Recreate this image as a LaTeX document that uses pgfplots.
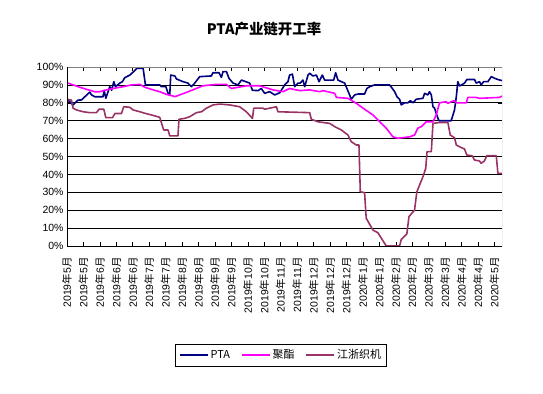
\documentclass[border=0pt]{standalone}
\usepackage{pgfplots}
\pgfplotsset{compat=1.18}
\usepackage{fontspec}
\setmainfont{Liberation Sans}
\newfontfamily\cjk{Noto Sans CJK SC}
\newcommand\lab[2]{#1{\cjk 年}#2{\cjk 月}}
\definecolor{ptac}{HTML}{000080}
\definecolor{polc}{HTML}{FF00FF}
\definecolor{weac}{HTML}{993366}
\begin{document}
\begin{tikzpicture}[x=1bp,y=1bp]
\path[use as bounding box] (0,0) rectangle (543,393);
\node[font=\cjk\bfseries\fontsize{14.5}{16}\selectfont] at (264,364) {PTA产业链开工率};
\begin{axis}[at={(67bp,147bp)}, anchor=south west, scale only axis,
  width=435bp, height=179bp,
  xmin=0, xmax=26.46, ymin=0, ymax=100,
  xtick={0,...,26},
  xticklabels={{\lab{2019}{5}},{\lab{2019}{5}},{\lab{2019}{6}},{\lab{2019}{6}},{\lab{2019}{6}},{\lab{2019}{7}},{\lab{2019}{7}},{\lab{2019}{8}},{\lab{2019}{8}},{\lab{2019}{9}},{\lab{2019}{9}},{\lab{2019}{10}},{\lab{2019}{10}},{\lab{2019}{11}},{\lab{2019}{11}},{\lab{2019}{12}},{\lab{2019}{12}},{\lab{2019}{12}},{\lab{2020}{1}},{\lab{2020}{1}},{\lab{2020}{2}},{\lab{2020}{2}},{\lab{2020}{3}},{\lab{2020}{3}},{\lab{2020}{4}},{\lab{2020}{4}},{\lab{2020}{5}}},
  ytick={0,10,...,100},
  yticklabels={0\%,10\%,20\%,30\%,40\%,50\%,60\%,70\%,80\%,90\%,100\%},
  xticklabel style={rotate=90, anchor=east, font=\fontsize{10.5}{12}\selectfont},
  xticklabel shift=8bp,
  yticklabel style={font=\fontsize{10.5}{12}\selectfont},
  tick align=inside, major tick length=4bp,
  tick style={black, line width=0.6bp},
  ymajorgrids, grid style={black, line width=0.8bp},
  axis line style={draw=none},
  legend style={at={(0.492,-0.609)}, anchor=center, legend columns=-1, draw=black, line width=0.6bp,
    font=\cjk\fontsize{11}{13}\selectfont, inner sep=3.5bp,
    /tikz/every even column/.append style={column sep=9bp}},
  legend image code/.code={\draw[#1] (0,0) -- (28bp,0);},
  every axis plot/.append style={line width=1.6bp, line join=round},
]
\addplot[ptac] coordinates {
(0,82) (0.37,78.8) (0.67,81.5) (0.88,81.6) (1.39,86) (1.49,84.4) (1.69,83.4) (2.19,83.4) (2.26,87) (2.36,82.5)
(2.60,89) (2.71,87) (2.85,91.8) (2.95,89) (3.21,91) (3.37,91.8) (3.51,94) (3.82,95.5) (3.98,96.8) (4.26,99.3)
(4.63,99.3) (4.77,90) (5.64,90) (5.74,89) (6.01,89) (6.15,85.3) (6.25,84.4) (6.31,95.5) (6.56,95) (6.66,93.3)
(7.06,91.8) (7.36,91) (7.57,89) (7.77,91) (8.07,94.6) (8.78,95) (8.88,96.8) (9.25,96.8) (9.39,94.2) (9.49,97.4)
(9.70,97.4) (9.85,93.7) (10.10,91) (10.40,90) (10.61,92.7) (11.11,91) (11.28,87) (11.62,86.8) (11.82,88) (12.02,85.3)
(12.33,86.2) (12.63,84.4) (12.94,85.6) (13.24,90) (13.44,91.8) (13.54,95.5) (13.71,96) (13.85,89) (14.05,91) (14.19,91)
(14.35,92.7) (14.46,89) (14.66,95.5) (14.76,96.5) (14.96,95) (15.17,95.5) (15.33,91.8) (15.53,95.5) (15.67,92.7) (16.22,92.7)
(16.34,96.8) (16.48,92.7) (16.69,91.8) (16.89,91) (17.19,84.4) (17.29,82) (17.50,84.4) (17.70,84.9) (18.10,84.9) (18.24,88)
(18.41,89) (18.71,90) (19.52,90) (19.62,90) (19.79,88) (19.93,86.2) (20.07,83.4) (20.23,82) (20.33,78.8) (20.53,80)
(20.74,80) (20.88,81.2) (21.04,80) (21.25,82) (21.65,82.5) (21.75,85.3) (21.95,84.4) (22.05,86.2) (22.16,84.4) (22.26,77.8)
(22.36,77) (22.46,74) (22.62,70) (23.37,70) (23.57,76) (23.68,83.4) (23.77,91.8) (23.88,89.4) (24.18,91) (24.32,93)
(24.79,93) (24.89,91) (25.09,91.8) (25.19,90) (25.34,91.8) (25.60,91.8) (25.81,94.6) (26.01,93.7) (26.21,93) (26.46,92.4)
};
\addlegendentry{PTA}
\addplot[polc] coordinates {
(0,91.2) (0.37,90) (0.78,88.7) (1.19,87.5) (1.69,86.2) (1.99,86.2) (2.40,87.2) (2.80,88) (3.41,89) (3.92,90)
(4.43,90.3) (4.73,88.7) (5.14,87.5) (5.64,86.2) (6.05,84.7) (6.45,83.8) (6.55,83.4) (7.26,85.8) (8.27,89.5) (9.09,90.3)
(9.70,90.3) (10.0,88) (10.91,89.5) (11.72,89.5) (12.53,87.2) (13.14,86.2) (13.54,88) (14.15,86.8) (14.76,87.2) (15.37,86.2)
(15.57,86.8) (16.28,85.3) (16.39,83) (17.09,82.5) (17.60,79.7) (18.10,76.4) (18.61,73.2) (19.02,69.4) (19.42,65.8) (19.82,61)
(20.13,60.2) (20.84,61) (21.14,62) (21.34,65.8) (21.55,66.7) (21.85,69.4) (22.26,69.4) (22.46,73.2) (22.66,80) (23.07,80.6)
(23.17,79.7) (23.37,80.6) (23.57,81.2) (23.68,80) (24.29,80) (24.38,83) (24.89,83) (25.09,82.5) (26.30,83) (26.46,83.8)
};
\addlegendentry{聚酯}
\addplot[weac] coordinates {
(0,82) (0.27,81.5) (0.37,77) (0.58,76) (0.98,75) (1.39,74.5) (1.79,74.5) (1.95,76.4) (2.24,76.4) (2.36,71.7)
(2.77,71.7) (2.91,74) (3.31,74) (3.45,77.8) (3.82,77.5) (4.02,76) (4.43,75) (4.79,74) (5.14,73.2) (5.64,71.9)
(5.88,64.8) (6.15,64.8) (6.25,61.5) (6.75,61.5) (6.81,70.8) (7.16,71.3) (7.46,72.2) (7.87,74.5) (8.18,75) (8.48,77)
(8.88,78.8) (9.29,79.3) (9.90,78.8) (10.50,77.8) (10.91,75) (11.28,71.3) (11.36,77) (11.92,77) (12.02,76.4) (12.33,77)
(12.74,77.8) (12.83,75) (14.76,74.5) (14.86,70.8) (15.26,69.4) (15.98,68.5) (16.28,66.7) (16.69,64.8) (17.09,62) (17.29,58.3)
(17.60,56.4) (17.76,56.4) (17.84,30.3) (18.10,29.8) (18.20,15.5) (18.61,8.9) (18.91,7.4) (19.42,0) (20.23,0) (20.33,3.7)
(20.67,6.7) (20.80,16.4) (21.14,20.1) (21.28,30.3) (21.65,38.7) (21.82,43.4) (21.90,52.7) (22.16,52.7) (22.26,68.5) (22.56,68.9)
(23.17,68.9) (23.31,62) (23.57,60.5) (23.68,56.4) (23.98,55) (24.18,54.2) (24.32,50.8) (24.65,50.4) (24.79,48) (25.09,47.5)
(25.19,46.2) (25.39,47.5) (25.53,50.4) (26.11,50.4) (26.21,40.6) (26.46,40.6)
};
\addlegendentry{江浙织机}
\draw[gray, line width=0.8bp] (rel axis cs:0,1) -- (rel axis cs:1,1) -- (rel axis cs:1,0);
\draw[black, line width=1bp] (rel axis cs:0,1) -- (rel axis cs:0,0) -- (rel axis cs:1,0);
\end{axis}
\end{tikzpicture}
\end{document}
